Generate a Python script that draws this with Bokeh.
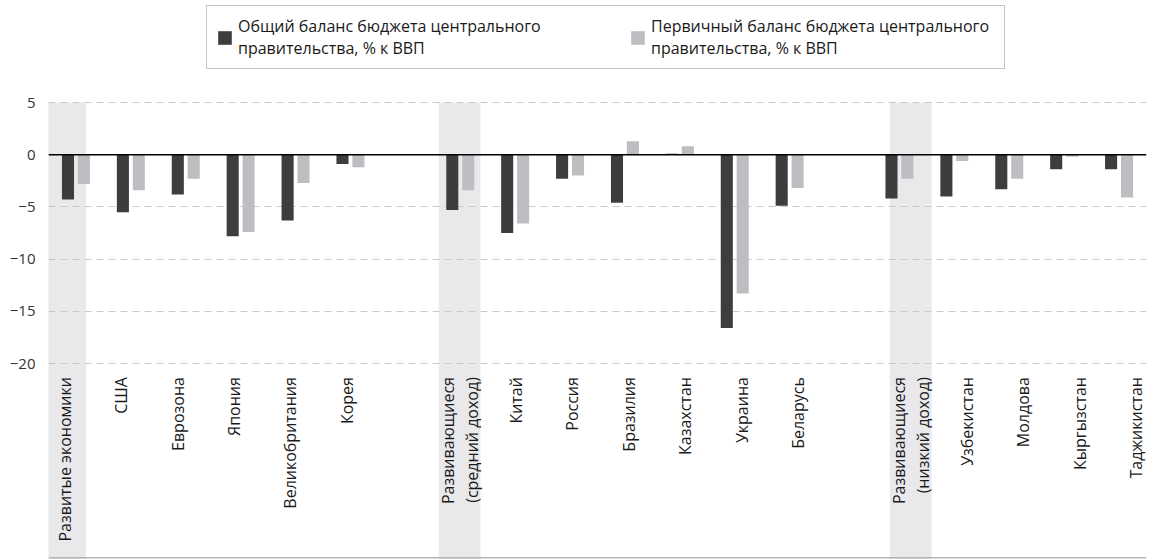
import math

from bokeh.core.properties import value
from bokeh.embed import file_html
from bokeh.models import (ColumnDataSource, FixedTicker, Legend, LegendItem,
                          Range1d, Span)
from bokeh.plotting import figure
from bokeh.resources import INLINE
from bokeh.transform import dodge

# Central government budget balance, % of GDP
advanced = ["Развитые экономики", "США", "Еврозона", "Япония",
            "Великобритания", "Корея"]
advanced_overall = [-4.3, -5.5, -3.8, -7.8, -6.3, -0.9]
advanced_primary = [-2.8, -3.4, -2.3, -7.4, -2.7, -1.2]

middle = ["Развивающиеся\n(средний доход)", "Китай", "Россия", "Бразилия",
          "Казахстан", "Украина", "Беларусь"]
middle_overall = [-5.3, -7.5, -2.3, -4.6, 0.1, -16.6, -4.9]
middle_primary = [-3.4, -6.6, -2.0, 1.3, 0.8, -13.3, -3.2]

low = ["Развивающиеся\n(низкий доход)", "Узбекистан", "Молдова",
       "Кыргызстан", "Таджикистан"]
low_overall = [-4.2, -4.0, -3.3, -1.4, -1.4]
low_primary = [-2.3, -0.6, -2.3, -0.2, -4.1]

y_ticks = [5, 0, -5, -10, -15, -20]

series_labels = ["Общий баланс бюджета центрального\nправительства, % к ВВП",
                 "Первичный баланс бюджета центрального\nправительства, % к ВВП"]

DARK = "#3d3d3d"
LIGHT = "#bdbec2"
BAND = "#e9e9eb"
GRID = "#c9c9c9"

# lay the three groups out on one axis, one empty slot between groups
groups = [(advanced, advanced_overall, advanced_primary),
          (middle, middle_overall, middle_primary),
          (low, low_overall, low_primary)]
names, overall, primary, pos, is_aggregate = [], [], [], [], []
slot = 0
for g, (cats, ov, pr) in enumerate(groups):
    if g:
        slot += 1
    for i, c in enumerate(cats):
        names.append(c)
        overall.append(ov[i])
        primary.append(pr[i])
        pos.append(slot)
        is_aggregate.append(i == 0)
        slot += 1

# category captions sit on a slightly wider pitch than the bar pairs
label_x = [s * 1.027 - 0.2 for s in pos]

src = ColumnDataSource(dict(x=pos, overall=overall, primary=primary))
lab = ColumnDataSource(dict(x=label_x, name=names,
                            y=[-21.3] * len(names)))
band_x = [lx for lx, agg in zip(label_x, is_aggregate) if agg]

Y_TOP, Y_BOTTOM = 14.77, -38.77

p = figure(width=1162, height=559, output_backend="svg", toolbar_location=None,
           x_range=Range1d(-0.5, 19.5), y_range=Range1d(Y_BOTTOM, Y_TOP),
           x_axis_location=None, min_border_left=48, min_border_right=16,
           min_border_top=0, min_border_bottom=0)
p.outline_line_color = None
p.xgrid.visible = False

# shaded columns behind the aggregate groups
p.quad(left=[b - 0.38 for b in band_x], right=[b + 0.38 for b in band_x],
       top=5, bottom=Y_BOTTOM, fill_color=BAND, line_color=None, level="image")

p.ygrid.ticker = FixedTicker(ticks=y_ticks)
p.ygrid.grid_line_color = GRID
p.ygrid.grid_line_dash = "7 5"
p.ygrid.grid_line_width = 1

ax = p.yaxis[0]
ax.ticker = FixedTicker(ticks=y_ticks)
ax.major_label_overrides = {t: (str(t).replace("-", "\u2212")) for t in y_ticks}
ax.axis_line_color = None
ax.major_tick_line_color = None
ax.minor_tick_line_color = None
ax.major_label_standoff = 7
ax.major_label_text_font = "Open Sans"
ax.major_label_text_font_size = "15px"
ax.major_label_text_color = "#333333"

r1 = p.vbar(x=dodge("x", -0.145, range=p.x_range), top="overall", bottom=0,
            width=0.22, source=src, fill_color=DARK, line_color=None)
r2 = p.vbar(x=dodge("x", 0.145, range=p.x_range), top="primary", bottom=0,
            width=0.22, source=src, fill_color=LIGHT, line_color=None)

p.add_layout(Span(location=0, dimension="width", line_color="black",
                  line_width=1.6))
p.add_layout(Span(location=-38.6, dimension="width", line_color="#b5b5b5",
                  line_width=1.5))

p.text(x="x", y="y", text="name", source=lab, angle=math.pi / 2,
       text_align="right", text_baseline="middle",
       text_font=value("Open Sans"), text_font_size="16px",
       text_color="#1a1a1a", text_line_height=1.1)

legend = Legend(items=[LegendItem(label=series_labels[0], renderers=[r1]),
                       LegendItem(label=series_labels[1], renderers=[r2])],
                orientation="horizontal", location=(158, 490),
                glyph_width=17, glyph_height=17, label_standoff=5,
                label_width=344, spacing=47, padding=9, margin=0,
                label_text_font="Open Sans", label_text_font_size="16px",
                label_text_color="#1a1a1a", label_text_line_height=1.1,
                border_line_color="#8a8a8a", border_line_width=1,
                background_fill_color="white", background_fill_alpha=1)
p.add_layout(legend)

open("out.html", "w").write(file_html(p, INLINE))
